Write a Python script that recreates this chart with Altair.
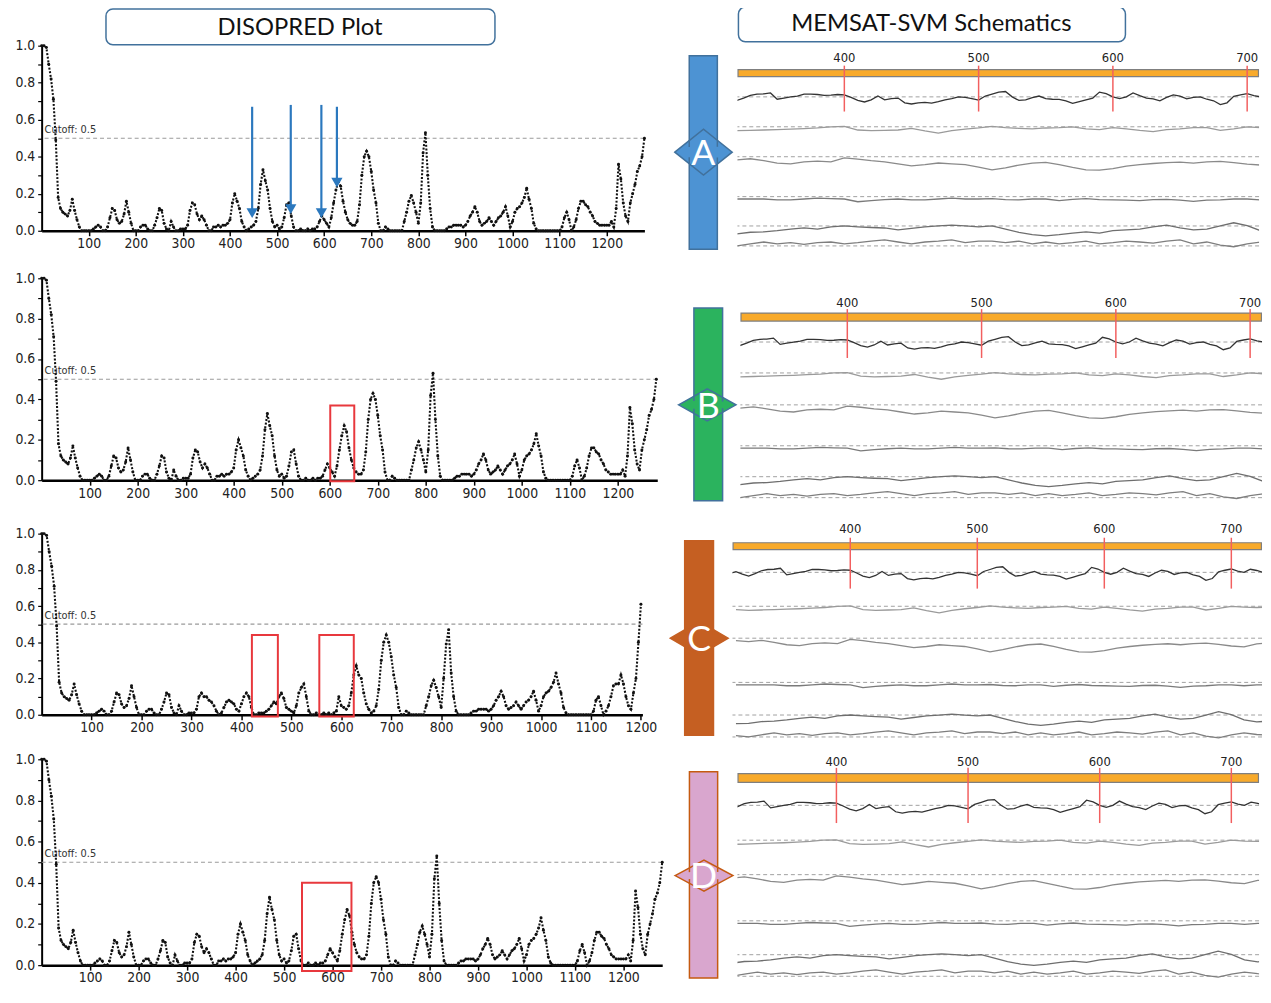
import altair as alt
import pandas as pd

# ---------------- DISOPRED disorder scores, read every 5 residues ----------------
DISO_STEP = 5
# panels A, B and D (full-length sequence, residues 0..1280)
diso_0_95 = [1.0, 1.0, 0.99, 0.9, 0.82, 0.71, 0.49, 0.18, 0.12, 0.1, 0.09, 0.08, 0.11, 0.17, 0.11, 0.06, 0.02, 0.0, 0.0, 0.0]
diso_100_195 = [0.0, 0.0, 0.01, 0.02, 0.03, 0.02, 0.0, 0.0, 0.02, 0.07, 0.12, 0.11, 0.06, 0.04, 0.05, 0.09, 0.16, 0.1, 0.04, 0.0]
diso_200_295 = [0.0, 0.0, 0.02, 0.03, 0.03, 0.01, 0.0, 0.0, 0.03, 0.07, 0.12, 0.11, 0.04, 0.01, 0.0, 0.05, 0.02, 0.0, 0.0, 0.01]
diso_300_395 = [0.01, 0.01, 0.03, 0.11, 0.15, 0.14, 0.09, 0.06, 0.08, 0.06, 0.03, 0.0, 0.0, 0.02, 0.02, 0.03, 0.02, 0.03, 0.03, 0.04]
diso_400_495 = [0.06, 0.15, 0.2, 0.16, 0.12, 0.05, 0.02, 0.0, 0.01, 0.02, 0.03, 0.05, 0.12, 0.25, 0.33, 0.27, 0.22, 0.12, 0.05, 0.02]
diso_500_595 = [0.03, 0.01, 0.02, 0.07, 0.14, 0.15, 0.08, 0.02, 0.0, 0.0, 0.01, 0.0, 0.0, 0.01, 0.0, 0.01, 0.01, 0.02, 0.05, 0.08]
diso_600_695 = [0.06, 0.04, 0.02, 0.07, 0.15, 0.22, 0.27, 0.24, 0.16, 0.1, 0.06, 0.04, 0.03, 0.03, 0.05, 0.14, 0.3, 0.4, 0.43, 0.4]
diso_700_795 = [0.32, 0.22, 0.15, 0.04, 0.0, 0.0, 0.02, 0.01, 0.0, 0.0, 0.0, 0.0, 0.0, 0.0, 0.05, 0.1, 0.16, 0.19, 0.15, 0.1]
diso_800_895 = [0.04, 0.15, 0.42, 0.53, 0.3, 0.12, 0.02, 0.0, 0.0, 0.0, 0.0, 0.0, 0.01, 0.02, 0.02, 0.03, 0.03, 0.03, 0.03, 0.02]
diso_900_995 = [0.03, 0.05, 0.08, 0.1, 0.13, 0.1, 0.05, 0.03, 0.04, 0.05, 0.07, 0.05, 0.03, 0.05, 0.07, 0.08, 0.1, 0.13, 0.08, 0.02]
diso_1000_1095 = [0.05, 0.1, 0.12, 0.13, 0.15, 0.18, 0.23, 0.17, 0.12, 0.04, 0.01, 0.0, 0.0, 0.0, 0.0, 0.0, 0.0, 0.0, 0.0, 0.0]
diso_1100_1195 = [0.0, 0.02, 0.07, 0.1, 0.06, 0.0, 0.02, 0.06, 0.12, 0.16, 0.16, 0.14, 0.13, 0.1, 0.08, 0.05, 0.04, 0.03, 0.03, 0.03]
diso_1200_1280 = [0.03, 0.03, 0.05, 0.02, 0.12, 0.36, 0.28, 0.15, 0.08, 0.05, 0.15, 0.2, 0.25, 0.32, 0.35, 0.4, 0.5]
# panel C (shorter construct, residues 0..1200) - stretches that differ
diso_c_300_395 = [0.01, 0.01, 0.03, 0.1, 0.12, 0.1, 0.1, 0.08, 0.07, 0.05, 0.02, 0.0, 0.01, 0.04, 0.07, 0.08, 0.07, 0.06, 0.03, 0.02]
diso_c_400_495 = [0.06, 0.1, 0.12, 0.1, 0.04, 0.0, 0.0, 0.01, 0.01, 0.01, 0.02, 0.03, 0.05, 0.07, 0.06, 0.1, 0.12, 0.09, 0.04, 0.03]
diso_c_500_595 = [0.02, 0.01, 0.05, 0.12, 0.15, 0.17, 0.1, 0.02, 0.0, 0.0, 0.01, 0.0, 0.0, 0.01, 0.0, 0.01, 0.0, 0.01, 0.02, 0.1]
diso_c_600_695 = [0.05, 0.04, 0.03, 0.05, 0.12, 0.22, 0.27, 0.22, 0.2, 0.12, 0.06, 0.03, 0.01, 0.02, 0.05, 0.14, 0.3, 0.4, 0.44, 0.4]
diso_c_800_895 = [0.04, 0.2, 0.39, 0.47, 0.23, 0.1, 0.02, 0.0, 0.0, 0.0, 0.0, 0.0, 0.01, 0.02, 0.02, 0.03, 0.03, 0.03, 0.03, 0.02]
diso_c_1100_1200 = [0.0, 0.02, 0.08, 0.1, 0.05, 0.0, 0.02, 0.05, 0.1, 0.16, 0.17, 0.17, 0.22, 0.17, 0.1, 0.05, 0.03, 0.12, 0.2, 0.4, 0.61]

disopred_abd = (diso_0_95 + diso_100_195 + diso_200_295 + diso_300_395 + diso_400_495 + diso_500_595
                + diso_600_695 + diso_700_795 + diso_800_895 + diso_900_995 + diso_1000_1095
                + diso_1100_1195 + diso_1200_1280)
disopred_c = (diso_0_95 + diso_100_195 + diso_200_295 + diso_c_300_395 + diso_c_400_495 + diso_c_500_595
              + diso_c_600_695 + diso_700_795 + diso_c_800_895 + diso_900_995 + diso_1000_1095
              + diso_c_1100_1200)

x_ticks = [100, 200, 300, 400, 500, 600, 700, 800, 900, 1000, 1100, 1200]
y_ticks = [0.0, 0.1, 0.2, 0.3, 0.4, 0.5, 0.6, 0.7, 0.8, 0.9, 1.0]
cutoff_value = 0.5
cutoff_label = "Cutoff: 0.5"

# blue arrows in panel A (residue, start score, tip score)
arrow_res = [447, 529, 594, 627]
arrow_from = [0.67, 0.68, 0.68, 0.67]
arrow_tip = [0.065, 0.087, 0.065, 0.23]

# red boxes (residue from/to, score from/to)
box_b = {"x1": [601], "x2": [651], "y1": [-0.005], "y2": [0.37]}
box_c = {"x1": [421, 556], "x2": [473, 625], "y1": [-0.01, -0.01], "y2": [0.44, 0.44]}
box_d = {"x1": [537], "x2": [639], "y1": [-0.028], "y2": [0.40]}

titles = ["DISOPRED Plot", "MEMSAT-SVM Schematics"]
panel_letters = ["A", "B", "C", "D"]
schem_ticks = [400, 500, 600, 700]

# ---------------- MEMSAT-SVM score traces (deviation from the dashed baseline) ----------------
lane1_start, lane1_step = 305, 5
lane1 = [-1, 0.5, -1.5, -3, -1, 1.3, 2.3, 2.5, 3.3, -2, -1, 0, 0.7, 2.3, 2.3, 2, 1.3, 1.5, 2, 1.7,
         -0.5, -3, -4.3, -2.5, 0.7, -2.5, -1.5, -1, -5, -6, -5, -4.7, -5.3, -4, -2.5, -1.5, 0, -0.5, -1.5, -2.7,
         0.7, 2.3, 4, 4.5, 0, -3, -2.5, -0.7, 0.7, -1.5, -2, -2.2, -3.3, -5.5, -4, -2.5, -1, 4, 2.7, 0,
         -1.5, 0, 3.3, 1, -1, -1.7, -3.3, -0.5, 1.7, 0.7, -1.7, -0.5, 0, -2, -3.3, -6.5, -5, 0.5, 1.7, 2.7,
         1, 0, 2.5, 1.5, 0, 0.5]
lanes_start, lanes_step = 310, 10
lane2 = [-2.7, -3.3, -3, -2.7, -2.3, -2, -1.5, -1, 0, 0.3, -2.7, -3.3, -3, -2.7, -1.3, -3.5, -5.3, -3.3,
         -2, -1, 0.3, -0.7, -1.3, -1.7, -1, -0.7, 0, -1.7, -2.3, -0.7, -1.7, -3, -4, -2.3, -1.7, -0.7,
         -0.7, -3, -1.7, 0, -0.7, -1, -0.7]
lane3 = [-2, -2.7, -1.7, -3.3, -5.3, -6, -4.3, -3.7, -4.3, -1, -2, -3.3, -4.3, -6, -7.7, -6.7, -5.3, -6,
         -6.7, -8.7, -11, -9.3, -7, -5.3, -4.7, -6.7, -9, -11, -11.3, -10, -8, -6.7, -5.7, -5, -4.5,
         -5.3, -4.3, -4, -5, -6.3, -7, -4.5, -4]
lane4 = [-2, -2, -2, -2, -2.7, -2.7, -2, -1.3, -1.7, -2, -4.3, -3.3, -2.5, -2, -2.7, -2.7, -2, -1.3,
         -2, -2, -1.7, -2.5, -2.7, -2, -2, -3.3, -2.3, -1.7, -2.5, -2.7, -3, -3.3, -2.5, -2.3, -3, -4,
         -3, -2.7, -2, -2, -2.7, -2, -2]
lane5 = [-7, -6.7, -5.3, -5, -4, -2.7, -1.7, -2.7, -0.7, 0, -0.7, -1.3, -1.7, -3.3, -2, -0.7, 0, 0.7,
         0, -0.7, 0, -2.7, -5.3, -7.3, -8.3, -7.3, -6, -5, -6, -4, -3.3, -2.7, -0.7, 0.7, -1.7, -3.3,
         -2.7, 0, 2.7, 0.3, -4, -5.5, -5]
lane6 = [1, 0, 1.7, 3.3, 1.7, 2.7, 1.3, 2.7, 3.3, 1.7, 2.7, 4, 5, 3.3, 1.7, 3.3, 4, 5, 2.7, 4, 4, 2.7,
         4, 1.7, 3.3, 1.7, 2.7, 4, 1.7, 2.7, 4, 3.3, 2.3, 4, 5, 1.7, 3.3, 0.7, -0.7, 1.7, 3.3, 2, 1.5]

lane_names = ["s1", "s2", "s3", "s4", "s5", "s6"]
lane_colors = ["#333333", "#9a9a9a", "#8a8a8a", "#7a7a7a", "#6e6e6e", "#7e7e7e"]

# ---------------- styling ----------------
NARROW = "Liberation Sans Narrow, Arial Narrow, DejaVu Sans Condensed, Liberation Sans, sans-serif"
HEAD = "Lato, Open Sans, sans-serif"
LEFT_AXIS_GAP = 33
X_RIGHT = 668          # page x where the right-hand column begins
X_END = 1262           # page x where the schematics end (stay inside the 1255px body)


def one_row():
    return alt.Chart(pd.DataFrame({"k": [0]}))


def diso_panel(values, xmax, width, height, top_pad, bottom_pad, boxes=None,
               arrows=False, header=False):
    df = pd.DataFrame({"res": [i * DISO_STEP for i in range(len(values))], "score": values})
    xs = alt.Scale(domain=[0, xmax], nice=False, zero=False)
    ys = alt.Scale(domain=[0, 1], nice=False, zero=False)
    xaxis = alt.Axis(values=[t for t in x_ticks if t <= xmax], format="d", labelFont=NARROW,
                     labelFontSize=14, labelColor="#222", domainColor="#000", domainWidth=2.5,
                     tickColor="#000", tickWidth=1.5, tickSize=5, labelPadding=1, grid=False,
                     labelOverlap=False, labelFlush=False)
    yaxis = alt.Axis(values=y_ticks, labelExpr="round(datum.value*10) % 2 == 0 ? format(datum.value, '.1f') : ''",
                     labelFont=NARROW, labelFontSize=14, labelColor="#222", domainColor="#000",
                     domainWidth=2, tickColor="#000", tickWidth=1.2, tickSize=4, labelPadding=3,
                     grid=False, labelOverlap=False, labelFlush=False)

    def X(f):
        return alt.X(f, type="quantitative", scale=xs, axis=xaxis, title=None)

    def Y(f):
        return alt.Y(f, type="quantitative", scale=ys, axis=yaxis, title=None)

    layers = []
    cut = pd.DataFrame({"cut": [cutoff_value], "lab": [cutoff_label]})
    layers.append(alt.Chart(cut).mark_rule(color="#9a9a9a", strokeDash=[4, 3], strokeWidth=1.2)
                  .encode(y=Y("cut")))
    layers.append(alt.Chart(cut).mark_text(align="left", baseline="bottom", font=NARROW, fontSize=11,
                                           color="#333", dx=3, dy=-3)
                  .encode(x=alt.value(0), y=Y("cut"), text="lab:N"))
    # dotted trace through the read scores plus the read points themselves
    layers.append(alt.Chart(df).mark_line(color="#111", strokeWidth=2.1, strokeDash=[2, 1.7])
                  .encode(x=X("res"), y=Y("score")))
    layers.append(alt.Chart(df).mark_circle(size=9, color="#111", opacity=1)
                  .encode(x=X("res"), y=Y("score")))
    if boxes is not None:
        layers.append(alt.Chart(pd.DataFrame(boxes)).mark_rect(filled=False, stroke="#E8383D", strokeWidth=2)
                      .encode(x=X("x1"), x2=alt.X2("x2"), y=Y("y1"), y2=alt.Y2("y2")))
    if arrows:
        adf = pd.DataFrame({"res": arrow_res, "top": arrow_from, "tip": arrow_tip})
        adf["head"] = adf["tip"] + 0.03
        layers.append(alt.Chart(adf).mark_rule(color="#2B78BE", strokeWidth=2.2)
                      .encode(x=X("res"), y=Y("top"), y2=alt.Y2("head")))
        layers.append(alt.Chart(adf).mark_point(shape="triangle-down", filled=True, size=130,
                                                color="#2B78BE", opacity=1)
                      .encode(x=X("res"), y=Y("head")))
    if header:
        h = pd.DataFrame({"t": [titles[0]]})
        layers.append(alt.Chart(h).mark_rect(fill="white", stroke="#41719C", strokeWidth=1.5, cornerRadius=7)
                      .encode(x=alt.value(65), x2=alt.value(458), y=alt.value(-37), y2=alt.value(-1)))
        layers.append(alt.Chart(h).mark_text(font=HEAD, fontSize=24, color="#111", baseline="middle")
                      .encode(x=alt.value(261), y=alt.value(-18), text="t:N"))
    # invisible (white) spacers that fix the panel's outer bounds
    layers.append(one_row().mark_rule(color="white")
                  .encode(x=alt.value(-LEFT_AXIS_GAP), x2=alt.value(-LEFT_AXIS_GAP + 1), y=alt.value(-top_pad)))
    layers.append(one_row().mark_rule(color="white")
                  .encode(x=alt.value(-LEFT_AXIS_GAP), x2=alt.value(-LEFT_AXIS_GAP + 1),
                          y=alt.value(height + bottom_pad)))
    return alt.layer(*layers).properties(width=width, height=height)


def schem_row(letter, fill, stroke, ref_top, fy, row_h, bar_x, cx, hw, hh, arrow_y, cy,
              schem_x0, px400, px700, label_y, bar_y, red_y, lanes, amp, header=None):
    """Positions are read in page pixels of the original; ref_top is the row's top there and
    fy a small vertical stretch applied inside the row."""
    def ry(v):
        return (v - ref_top) * fy
    arrow_w = schem_x0 - X_RIGHT
    schem_w = X_END - schem_x0
    per_res = (px700 - px400) / 300.0
    dom = [400 - (px400 - schem_x0) / per_res, 400 + (X_END - px400) / per_res]
    bx = [b - X_RIGHT for b in bar_x]
    cxr = cx - X_RIGHT
    hh = hh * fy
    # ---- the coloured double-headed marker ----
    base = alt.Chart(pd.DataFrame({"letter": [letter]}))
    layers = [base.mark_rect(fill=fill, stroke=stroke, strokeWidth=1.5)
              .encode(x=alt.value(bx[0]), x2=alt.value(bx[1]),
                      y=alt.value(ry(arrow_y[0])), y2=alt.value(ry(arrow_y[1])))]
    r = hh / hw
    layers.append(base.mark_point(shape=f"M -1 0 L 0 {-r:.4f} L 1 0 L 0 {r:.4f} Z", size=(2 * hw) ** 2,
                                  filled=True, fill=fill, stroke=stroke, strokeWidth=1.5, opacity=1)
                  .encode(x=alt.value(cxr), y=alt.value(ry(cy))))
    for b in bx:
        e = hh * (1 - abs(b - cxr) / hw)
        ln = e * 0.55
        layers.append(base.mark_rule(color=stroke, strokeWidth=1.5)
                      .encode(x=alt.value(b), y=alt.value(ry(cy) - e), y2=alt.value(ry(cy) - e + ln)))
        layers.append(base.mark_rule(color=stroke, strokeWidth=1.5)
                      .encode(x=alt.value(b), y=alt.value(ry(cy) + e - ln), y2=alt.value(ry(cy) + e)))
    layers.append(base.mark_text(font=HEAD, fontSize=36, color="white", align="center", baseline="middle", dy=2)
                  .encode(x=alt.value((bx[0] + bx[1]) / 2), y=alt.value(ry(cy)), text="letter:N"))
    # invisible (white) spacers fixing the row's vertical extent
    layers.append(base.mark_rule(color="white")
                  .encode(x=alt.value(0), x2=alt.value(1), y=alt.value(0.5)))
    layers.append(base.mark_rule(color="white")
                  .encode(x=alt.value(0), x2=alt.value(1), y=alt.value(row_h - 0.5)))
    arrow_chart = alt.layer(*layers).properties(width=arrow_w, height=row_h)

    # ---- schematic ----
    xs = alt.Scale(domain=dom, nice=False, zero=False)
    ys = alt.Scale(domain=[row_h, 0], nice=False, zero=False)
    lane_base = [ry(v) for v in lanes]
    rows = []
    specs = [(lane1_start, lane1_step, lane1), (lanes_start, lanes_step, lane2),
             (lanes_start, lanes_step, lane3), (lanes_start, lanes_step, lane4),
             (lanes_start, lanes_step, lane5), (lanes_start, lanes_step, lane6)]
    for i, (st, sp, vals) in enumerate(specs):
        for j, v in enumerate(vals):
            rows.append({"lane": lane_names[i], "res": st + sp * j, "yv": lane_base[i] - amp * v})
    wdf = pd.DataFrame(rows)
    tdf = pd.DataFrame({"tick": schem_ticks})
    s_layers = [
        alt.Chart(pd.DataFrame({"base": lane_base})).mark_rule(strokeDash=[4, 3], color="#a0a0a0", strokeWidth=1)
        .encode(y=alt.Y("base:Q", scale=ys, axis=None)),
        alt.Chart(wdf).mark_line(clip=True, strokeWidth=1.3)
        .encode(x=alt.X("res:Q", scale=xs, axis=None), y=alt.Y("yv:Q", scale=ys, axis=None),
                detail="lane:N",
                color=alt.Color("lane:N", scale=alt.Scale(domain=lane_names, range=lane_colors), legend=None)),
        one_row().mark_rect(fill="#F8AA2B", stroke="#7f7f7f", strokeWidth=1.2)
        .encode(x=alt.value(0.6), x2=alt.value(schem_w - 0.6), y=alt.value(ry(bar_y[0])), y2=alt.value(ry(bar_y[1]))),
        alt.Chart(tdf).mark_rule(color="#F25F5F", strokeWidth=1.5)
        .encode(x=alt.X("tick:Q", scale=xs, axis=None), y=alt.value(ry(red_y[0])), y2=alt.value(ry(red_y[1]))),
        alt.Chart(tdf).mark_text(font=NARROW, fontSize=13, color="#222", baseline="middle")
        .encode(x=alt.X("tick:Q", scale=xs, axis=None), y=alt.value(ry(label_y)),
                text=alt.Text("tick:Q", format="d")),
    ]
    if header is not None:
        h = pd.DataFrame({"t": [titles[1]]})
        hy = [header[0] - ref_top, header[1] - ref_top]
        s_layers.append(alt.Chart(h).mark_rect(fill="white", stroke="#41719C", strokeWidth=1.5, cornerRadius=7)
                        .encode(x=alt.value(1), x2=alt.value(392), y=alt.value(hy[0]), y2=alt.value(hy[1])))
        s_layers.append(alt.Chart(h).mark_text(font=HEAD, fontSize=24, color="#111", baseline="middle")
                        .encode(x=alt.value(196), y=alt.value((hy[0] + hy[1]) / 2), text="t:N"))
    schem_chart = alt.layer(*s_layers).properties(width=schem_w, height=row_h)
    return alt.hconcat(arrow_chart, schem_chart, spacing=0)


# ---------------- left column ----------------
pA = diso_panel(disopred_abd, 1280, 609, 187, 38, 24, arrows=True, header=True)
pB = diso_panel(disopred_abd, 1282, 622, 204, 22, 25, boxes=box_b)
pC = diso_panel(disopred_c, 1203, 607, 183, 27, 22, boxes=box_c)
pD = diso_panel(disopred_abd, 1280, 627, 208, 21, 14, boxes=box_d)
left_col = alt.vconcat(pA, pB, pC, pD, spacing=0)

# ---------------- right column (positions) ----------------
rA = schem_row(panel_letters[0], "#4D93D3", "#41719C", 46, 1.008, 249, (687.3, 715.7), 701.7, 29, 23,
               (56, 250), 152.7, 735, 843, 1250, 58, (70, 77), (66, 112),
               [97.3, 127.3, 157.3, 197.3, 226.7, 246.7], 1.2, header=(7, 42))
rB = schem_row(panel_letters[1], "#2BB35E", "#41719C", 292, 1.008, 230, (692, 721), 705.5, 29, 16,
               (308, 501), 405, 735, 843, 1250, 303, (313, 321), (309, 358),
               [342, 373, 405, 446, 477, 498], 1.2)
rC = schem_row(panel_letters[2], "#C55F22", "#C55F22", 519, 1.008, 236, (682.7, 711.8), 697.4, 29.2, 17,
               (540, 735), 637.7, 727, 846, 1231, 528, (542, 549), (537, 588),
               [571.7, 605.7, 637.7, 682, 714.7, 736.7], 1.25)
rD = schem_row(panel_letters[3], "#D9A6CE", "#C55A11", 752, 0.978, 229, (687.5, 716), 702.2, 29.2, 16,
               (771, 984), 878.3, 735, 835, 1234, 760.7, (773, 782), (767, 824),
               [805.7, 841.7, 877.3, 925, 960, 982.3], 1.3)
right_col = alt.vconcat(rA, rB, rC, rD, spacing=0)

chart = (alt.hconcat(left_col, right_col, spacing=0)
         .properties(padding={"top": -7, "left": 0, "right": 0, "bottom": -2})
         .configure_view(stroke=None))

chart.save("out.html", embed_options={"renderer": "svg", "actions": False})
